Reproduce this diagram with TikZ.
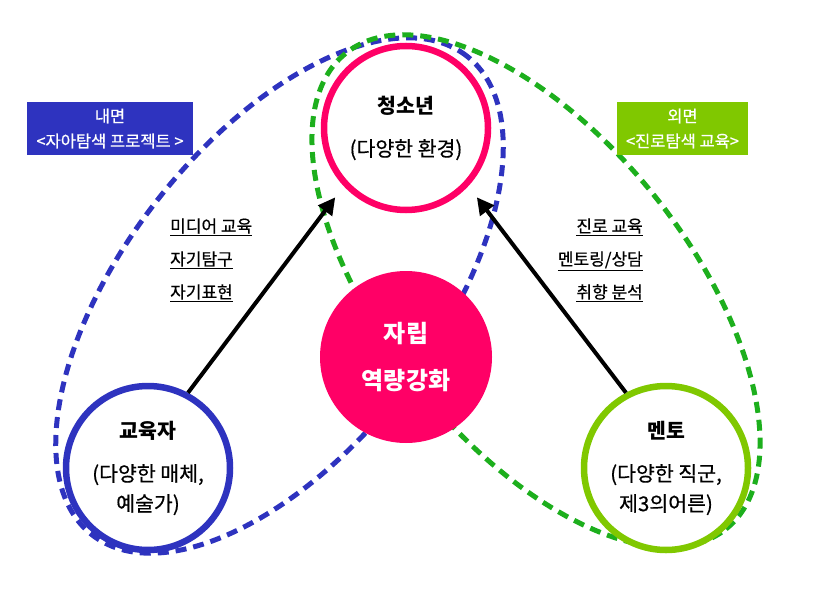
\documentclass[tikz,border=0pt]{standalone}
\usepackage{fontspec}
\newfontfamily\kr{Noto Sans CJK KR}
\newfontfamily\krmid{Noto Sans CJK KR}[FakeBold=0.5]
\usetikzlibrary{arrows.meta}
\definecolor{rosered}{HTML}{FF0066}
\definecolor{innerblue}{HTML}{2E33BF}
\definecolor{outergreen}{HTML}{1DAF1D}
\definecolor{limegreen}{HTML}{80C800}
\begin{document}
\begin{tikzpicture}[x=1pt,y=1pt,
    ring/.style={circle,draw=#1,line width=6.5pt,fill=white,minimum size=164pt,inner sep=0pt,
      align=center,font=\krmid\fontsize{20.5}{30}\selectfont},
    zone/.style={draw=#1,line width=5pt,dash pattern=on 11pt off 7pt},
    tag/.style={fill=#1,text=white,inner sep=0pt,minimum height=53pt,align=center,
      font=\krmid\fontsize{16.5}{25}\selectfont},
    notes/.style={inner sep=0pt,font=\krmid\fontsize{17}{33}\selectfont},
    push/.style={line width=4pt,-{Triangle[length=17pt,width=17pt]},shorten >=14pt}]
  \useasboundingbox (0,0) rectangle (818,598);
  % inner and outer zones
  \draw[zone=innerblue,rotate around={51.9:(279.5,302.5)}] (279.5,302.5) ellipse (304 and 155);
  \draw[zone=outergreen,rotate around={-51.4:(536,307)}] (536,307) ellipse (304.5 and 152);
  \node[ring=rosered] (youth) at (406,470) {{\kr\bfseries\fontsize{20.5}{30}\selectfont 청소년}\\[13pt](다양한 환경)};
  \node[circle,fill=rosered,minimum size=172pt,text=white,align=center,
    font=\kr\bfseries\fontsize{24}{47}\selectfont] (core) at (406,241) {자립\\역량강화};
  \node[ring=innerblue] (edu) at (148,130) {{\kr\bfseries\fontsize{20.5}{30}\selectfont 교육자}\\[13pt](다양한 매체,\\예술가)};
  \node[ring=limegreen] (mentor) at (666,130) {{\kr\bfseries\fontsize{20.5}{30}\selectfont 멘토}\\[13pt](다양한 직군,\\제3의어른)};
  \node[tag=innerblue,minimum width=166pt] (inward) at (110,469.5) {내면\\<자아탐색 프로젝트 >};
  \node[tag=limegreen,minimum width=131pt] (outward) at (682.5,469.5) {외면\\<진로탐색 교육>};
  \node[notes,align=left,anchor=west] (selfnotes) at (170,338) {\underline{미디어 교육}\\\underline{자기탐구}\\\underline{자기표현}};
  \node[notes,align=right,anchor=east] (careernotes) at (643,338) {\underline{진로 교육}\\\underline{멘토링/상담}\\\underline{취향 분석}};
  \draw[push] (edu.62) -- (youth.223);
  \draw[push] (mentor.118) -- (youth.317);
\end{tikzpicture}
\end{document}
